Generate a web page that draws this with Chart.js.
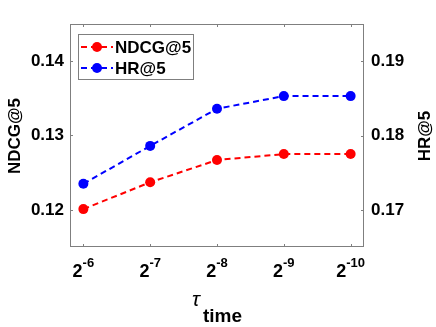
<!DOCTYPE html>
<html>
<head>
<meta charset="utf-8">
<script src="https://cdn.jsdelivr.net/npm/chart.js@4/dist/chart.umd.min.js"></script>
<style>
  html, body { margin: 0; padding: 0; background: #fff; }
  #wrap { width: 436px; height: 327px; }
</style>
</head>
<body>
<div id="wrap"><canvas id="myChart" width="436" height="327"></canvas></div>
<script>
// data
const xExponents = [-6, -7, -8, -9, -10];
const ndcg = [0.1201, 0.1237, 0.1267, 0.1275, 0.1275];
const hr = [0.1735, 0.1786, 0.1836, 0.1853, 0.1853];
const leftTicks = [0.12, 0.13, 0.14];
const rightTicks = [0.17, 0.18, 0.19];

const FONT = 'Liberation Sans, Arial, sans-serif';
const AXIS_GRAY = '#7f7f7f';

const toPoints = vals => vals.map((v, i) => ({ x: i, y: v }));

// box, inward ticks, superscript x labels, axis titles, legend
const matlabLook = {
    id: 'matlabLook',
    afterDraw(chart) {
        const c = chart.ctx;
        const a = chart.chartArea;
        const xs = chart.scales.x, yl = chart.scales.y, yr = chart.scales.y1;
        c.save();
        c.strokeStyle = AXIS_GRAY;
        c.lineWidth = 1;
        c.strokeRect(a.left + 0.5, a.top + 0.5, a.right - a.left - 1, a.bottom - a.top - 1);

        c.beginPath();
        xExponents.forEach((e, i) => {
            const px = Math.round(xs.getPixelForValue(i)) + 0.5;
            c.moveTo(px, a.bottom); c.lineTo(px, a.bottom - 3);
            c.moveTo(px, a.top); c.lineTo(px, a.top + 3);
        });
        leftTicks.forEach(t => {
            const py = Math.round(yl.getPixelForValue(t)) + 0.5;
            c.moveTo(a.left, py); c.lineTo(a.left + 3, py);
        });
        rightTicks.forEach(t => {
            const py = Math.round(yr.getPixelForValue(t)) + 0.5;
            c.moveTo(a.right, py); c.lineTo(a.right - 3, py);
        });
        c.stroke();

        // x tick labels 2^e
        c.fillStyle = '#000';
        c.textBaseline = 'alphabetic';
        c.textAlign = 'left';
        xExponents.forEach((e, i) => {
            const px = xs.getPixelForValue(i);
            c.font = 'bold 18px ' + FONT;
            const wb = c.measureText('2').width;
            c.font = 'bold 13px ' + FONT;
            const sup = String(e);
            const ws = c.measureText(sup).width;
            const x0 = px - (wb + ws) / 2;
            c.font = 'bold 18px ' + FONT;
            c.fillText('2', x0, 277);
            c.font = 'bold 13px ' + FONT;
            c.fillText(sup, x0 + wb, 267);
        });

        // x title: tau with subscript
        c.font = 'italic 21px ' + FONT;
        c.fillText('\u03C4', 192, 306);
        c.font = 'bold 19px ' + FONT;
        c.fillText('time', 203, 322);

        // y titles
        c.font = 'bold 17px ' + FONT;
        c.textAlign = 'center';
        c.textBaseline = 'middle';
        c.save();
        c.translate(15, 136);
        c.rotate(-Math.PI / 2);
        c.fillText('NDCG@5', 0, 0);
        c.restore();
        c.save();
        c.translate(425, 136);
        c.rotate(-Math.PI / 2);
        c.fillText('HR@5', 0, 0);
        c.restore();

        // legend
        const lx = 78, ly = 34, lw = 115, lh = 45;
        c.fillStyle = '#fff';
        c.fillRect(lx, ly, lw, lh);
        c.strokeStyle = AXIS_GRAY;
        c.strokeRect(lx + 0.5, ly + 0.5, lw, lh);
        const items = [
            { label: 'NDCG@5', color: '#ff0000', y: 47 },
            { label: 'HR@5', color: '#0000ff', y: 68 }
        ];
        items.forEach(it => {
            c.strokeStyle = it.color;
            c.lineWidth = 2;
            c.setLineDash([6, 4]);
            c.beginPath();
            c.moveTo(81, it.y); c.lineTo(113, it.y);
            c.stroke();
            c.setLineDash([]);
            c.fillStyle = it.color;
            c.beginPath();
            c.arc(97, it.y, 5, 0, Math.PI * 2);
            c.fill();
            c.fillStyle = '#000';
            c.textAlign = 'left';
            c.textBaseline = 'middle';
            c.font = 'bold 17px ' + FONT;
            c.fillText(it.label, 115, it.y + 1);
        });
        c.restore();
    }
};

const ctx = document.getElementById('myChart').getContext('2d');

const myChart = new Chart(ctx, {
    type: 'line',
    data: {
        datasets: [{
            label: 'NDCG@5',
            data: toPoints(ndcg),
            yAxisID: 'y',
            borderColor: '#ff0000',
            backgroundColor: '#ff0000',
            borderWidth: 2,
            borderDash: [6, 4],
            pointRadius: 5,
            pointBorderWidth: 0,
            tension: 0
        }, {
            label: 'HR@5',
            data: toPoints(hr),
            yAxisID: 'y1',
            borderColor: '#0000ff',
            backgroundColor: '#0000ff',
            borderWidth: 2,
            borderDash: [6, 4],
            pointRadius: 5,
            pointBorderWidth: 0,
            tension: 0
        }]
    },
    options: {
        responsive: false,
        animation: false,
        layout: { padding: { top: 24, left: 0, right: 0, bottom: 0 } },
        scales: {
            x: {
                type: 'linear',
                min: -0.2,
                max: 4.2,
                grid: { display: false },
                border: { display: false },
                ticks: { display: false },
                afterFit: s => { s.height = 80; }
            },
            y: {
                position: 'left',
                min: 0.115,
                max: 0.145,
                grid: { display: false, drawTicks: false },
                border: { display: false },
                afterBuildTicks: s => { s.ticks = leftTicks.map(v => ({ value: v })); },
                ticks: {
                    color: '#000',
                    padding: 6,
                    font: { family: FONT, size: 17, weight: 'bold' },
                    callback: v => v.toFixed(2)
                },
                afterFit: s => { s.width = 70; }
            },
            y1: {
                position: 'right',
                min: 0.165,
                max: 0.195,
                grid: { display: false, drawTicks: false },
                border: { display: false },
                afterBuildTicks: s => { s.ticks = rightTicks.map(v => ({ value: v })); },
                ticks: {
                    color: '#000',
                    padding: 7,
                    font: { family: FONT, size: 17, weight: 'bold' },
                    callback: v => v.toFixed(2)
                },
                afterFit: s => { s.width = 72; }
            }
        },
        plugins: {
            legend: { display: false },
            tooltip: { enabled: false }
        }
    },
    plugins: [matlabLook]
});
</script>
</body>
</html>
